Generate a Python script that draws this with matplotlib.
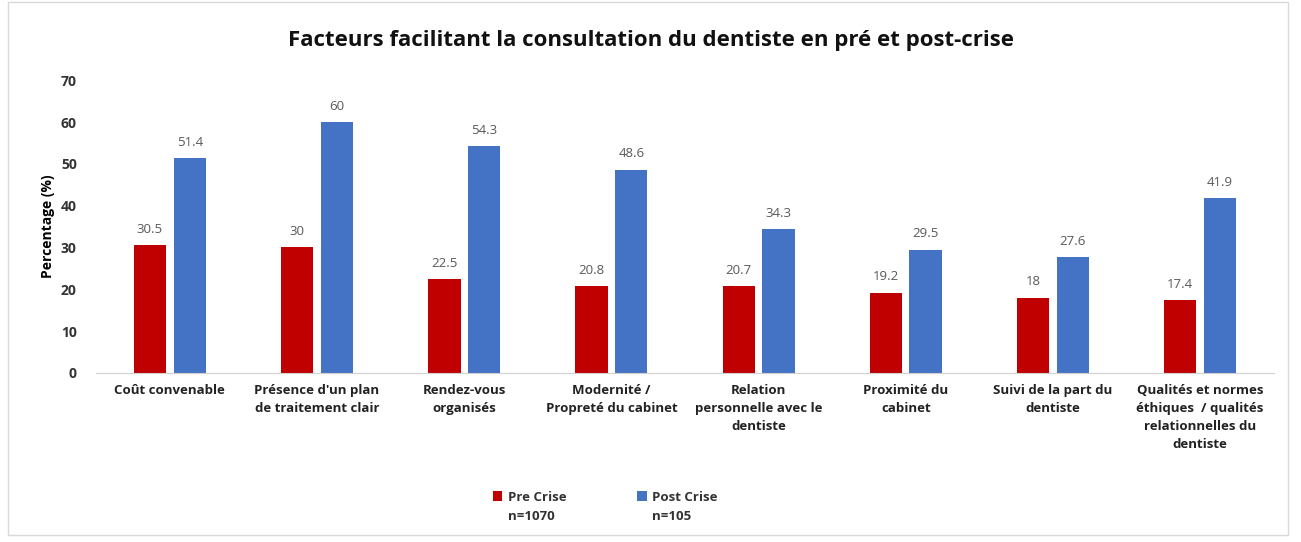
import matplotlib.pyplot as plt
import numpy as np
from matplotlib.patches import Rectangle

plt.rcParams['font.family'] = ['Open Sans', 'DejaVu Sans']

categories = [
    "Coût convenable",
    "Présence d'un plan\nde traitement clair",
    "Rendez-vous\norganisés",
    "Modernité /\nPropreté du cabinet",
    "Relation\npersonnelle avec le\ndentiste",
    "Proximité du\ncabinet",
    "Suivi de la part du\ndentiste",
    "Qualités et normes\néthiques  / qualités\nrelationnelles du\ndentiste",
]
pre_crise = [30.5, 30, 22.5, 20.8, 20.7, 19.2, 18, 17.4]
post_crise = [51.4, 60, 54.3, 48.6, 34.3, 29.5, 27.6, 41.9]
pre_labels = ["30.5", "30", "22.5", "20.8", "20.7", "19.2", "18", "17.4"]
post_labels = ["51.4", "60", "54.3", "48.6", "34.3", "29.5", "27.6", "41.9"]
series_names = ["Pre Crise", "Post Crise"]
series_n = ["n=1070", "n=105"]

fig = plt.figure(figsize=(13.01, 5.42), dpi=100)
ax = fig.add_axes([0.074, 0.312, 0.905, 0.54])

x = np.arange(len(categories))
w = 0.22
b1 = ax.bar(x - 0.135, pre_crise, w, color="#C00000", label=series_names[0])
b2 = ax.bar(x + 0.135, post_crise, w, color="#4472C4", label=series_names[1])

for bars, labs in ((b1, pre_labels), (b2, post_labels)):
    for r, t in zip(bars, labs):
        ax.text(r.get_x() + r.get_width() / 2, r.get_height() + 2.2, t,
                ha="center", va="bottom", fontsize=9.5, color="#595959")

ax.set_xlim(-0.5, len(categories) - 0.5)
ax.set_ylim(0, 70)
ax.set_yticks(range(0, 71, 10))
ax.set_xticks(x)
ax.set_xticklabels(categories, fontsize=9.5, fontweight="bold", color="#222222",
                   linespacing=1.5)
for lab in ax.get_yticklabels():
    lab.set_fontweight("bold")
    lab.set_fontsize(10)
    lab.set_color("#333333")
ax.tick_params(axis="both", length=0, pad=8)
ax.tick_params(axis="y", pad=14)
for s in ("top", "right", "left"):
    ax.spines[s].set_visible(False)
ax.spines["bottom"].set_color("#D0D0D0")

ax.set_ylabel("Percentage (%)", fontsize=10, fontweight="bold", labelpad=4)
fig.suptitle("Facteurs facilitant la consultation du dentiste en pré et post-crise",
             x=0.5, y=0.945, fontsize=16, fontweight="bold", color="#111111")

leg = fig.legend(loc="center left", bbox_to_anchor=(0.379, 0.083), ncol=2, frameon=False,
                 fontsize=9.5, handlelength=0.7, handleheight=0.7, columnspacing=5.4,
                 handletextpad=0.4, borderpad=0, borderaxespad=0)
for t in leg.get_texts():
    t.set_fontweight("bold")
    t.set_color("#333333")

# sample sizes under each legend entry
fig.canvas.draw()
inv = fig.transFigure.inverted()
for t, n in zip(leg.get_texts(), series_n):
    bb = t.get_window_extent()
    x0, y0 = inv.transform((bb.x0, bb.y0))
    fig.text(x0, y0 - 0.012, n, ha="left", va="top", fontsize=9.5,
             fontweight="bold", color="#333333")

fig.add_artist(Rectangle((0.006, 0.012), 0.984, 0.985, transform=fig.transFigure,
                         fill=False, edgecolor="#D9D9D9", linewidth=1))

fig.savefig("out.png", dpi=100)
